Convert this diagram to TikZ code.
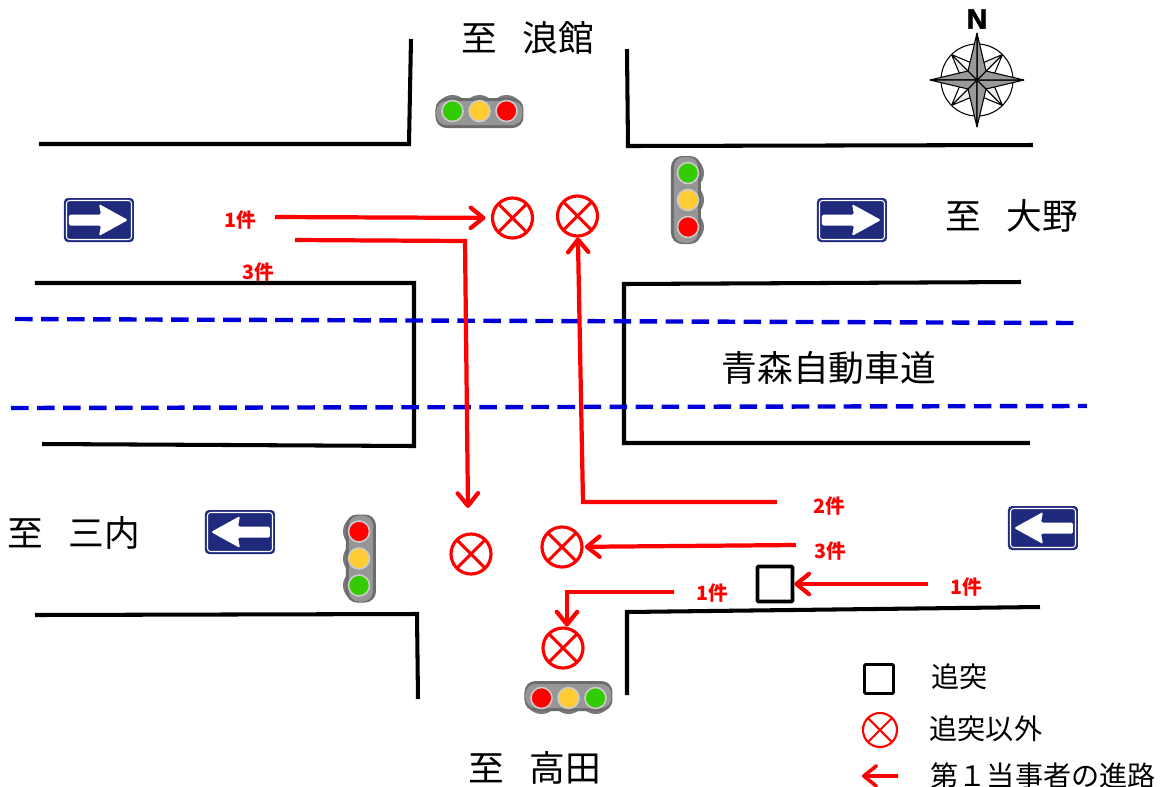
\documentclass[tikz,border=0pt]{standalone}
\usepackage{fontspec}
\setmainfont{Noto Sans CJK JP}
\newfontfamily\nfont[BoldFeatures={FakeBold=2}]{Liberation Sans}
\usetikzlibrary{arrows.meta}
\definecolor{signnavy}{HTML}{1F2A7C}
\definecolor{lampgreen}{HTML}{33CC00}
\definecolor{lampyellow}{HTML}{FFCC33}
\newcommand{\trafficlight}[3]{
    \begin{scope}[shift={(#1,#2)},rotate=#3]
        \foreach \lx in {-27,0,27} {\fill[gray!95!black] (\lx,-2) circle (16);}
        \fill[rounded corners=1.1mm,gray!85!black] (-44,-15) rectangle (44,15);
        \fill[rounded corners=1mm,gray!82] (-43,-12) rectangle (43,12);
        \draw[gray!40,fill=lampgreen,line width=.45pt] (-27,-2) circle (10.5);
        \draw[gray!40,fill=lampyellow,line width=.45pt] (0,-2) circle (10.5);
        \draw[gray!40,fill=red,line width=.45pt] (27,-2) circle (10.5);
    \end{scope}
}
\newcommand{\onewaysign}[3]{
    \begin{scope}[shift={(#1,#2)},rotate=#3]
        \fill[signnavy,rounded corners=.4mm] (-35,-22) rectangle (35,22);
        \draw[white,line width=.3pt,rounded corners=.3mm] (-32.5,-19.5) rectangle (32.5,19.5);
        \fill[white,rounded corners=.15mm] (-30,-5.5) -- (2,-5.5) -- (0,-16) -- (29,0) -- (0,16) -- (2,5.5) -- (-30,5.5) -- cycle;
    \end{scope}
}
\tikzset{
    road/.style={line width=1.15pt,line join=miter},
    bluedash/.style={blue!85!black,line width=1.25pt,dash pattern=on 5pt off 2.4pt},
    route/.style={red,line width=1.2pt,-{Straight Barb[length=3.6pt,width=5.8pt,round]}},
    crash/.style={circle,draw=red,inner sep=0pt,outer sep=0pt,minimum size=.4cm,line width=#1,
        path picture={\draw[red,line width=#1] (path picture bounding box.north west)--(path picture bounding box.south east)
            (path picture bounding box.north east)--(path picture bounding box.south west);}},
    crash/.default=.9pt,
    rearend/.style={rectangle,draw=black,rounded corners=.3pt,inner sep=0pt,outer sep=0pt},
    bigtext/.style={font=\fontsize{10.15}{12}\selectfont,inner sep=0pt},
    legendtext/.style={font=\fontsize{8}{10}\selectfont,inner sep=0pt,anchor=west},
    countlabel/.style={font=\fontsize{5.6}{7}\selectfont\bfseries,text=red,inner sep=0pt}
}
\begin{document}
\begin{tikzpicture}[x=0.01cm,y=-0.01cm]
                    \useasboundingbox (0,0) rectangle (1162,787);

                    \draw[road] (39,144)--(409,144)--(411,39);
                    \draw[road] (627,49)--(628,146)--(1033,145);
                    \draw[road] (35,283)--(414,283)--(414,446)--(42,444);
                    \draw[road] (1021,282)--(624,284)--(624,443)--(1030,443);
                    \draw[road] (35,615)--(417,614)--(418,699);
                    \draw[road] (627,695)--(627,612)--(1040,607);

                    \draw[bluedash] (15,319)--(1077,323);
                    \draw[bluedash] (11,408)--(1087,406);

                    \trafficlight{479.5}{113}{0}
                    \trafficlight{686}{200}{-90}
                    \trafficlight{361}{558.5}{90}
                    \trafficlight{568.5}{696}{180}

                    \onewaysign{99}{220}{0}
                    \onewaysign{852}{220}{0}
                    \onewaysign{240}{532}{180}
                    \onewaysign{1043}{528}{180}

                    \begin{scope}[shift={(977,80)},line join=bevel]
                        \draw[line width=.3pt] (0,0) circle (36);
                        \foreach \ang in {45,135,225,315} {
                            \draw[line width=.3pt,fill=white,rotate=\ang] (0,0)--(36,0)--(14,9)--cycle;
                            \draw[line width=.3pt,fill=gray!15,rotate=\ang] (0,0)--(36,0)--(14,-9)--cycle;
                        }
                        \foreach \ang in {0,90,180,270} {
                            \draw[line width=.3pt,fill=gray!80,rotate=\ang] (0,0)--(47,0)--(9,9)--cycle;
                            \draw[line width=.3pt,fill=gray!80,rotate=\ang] (0,0)--(47,0)--(9,-9)--cycle;
                        }
                    \end{scope}
                    \node[font=\nfont\bfseries\fontsize{8}{10}\selectfont,inner sep=0pt] (north) at (977,19) {N};

                    \node[bigtext] (namidate) at (528,38) {至\hspace{.7em}浪館};
                    \node[bigtext] (ono) at (1012,216) {至\hspace{.7em}大野};
                    \node[bigtext] (expressway) at (829,368) {青森自動車道};
                    \node[bigtext] (sannai) at (74,533) {至\hspace{.7em}三内};
                    \node[bigtext] (takada) at (535,768) {至\hspace{.7em}高田};

                    \node[crash] (crashA) at (512.5,218) {};
                    \node[crash] (crashB) at (577.5,216) {};
                    \node[crash] (crashC) at (471,554) {};
                    \node[crash] (crashD) at (562,547) {};
                    \node[crash] (crashE) at (563,648) {};
                    \node[rearend,line width=1.1pt,minimum size=.35cm] (rearA) at (775,584) {};

                    \node[countlabel] (countA) at (240,220) {1件};
                    \node[countlabel] (countB) at (258,272) {3件};
                    \node[countlabel] (countC) at (829,506) {2件};
                    \node[countlabel] (countD) at (830,551) {3件};
                    \node[countlabel] (countE) at (712,593) {1件};
                    \node[countlabel] (countF) at (966,587) {1件};

                    \coordinate (startA) at (275,217);
                    \coordinate (startB) at (295,240);
                    \coordinate (bendB) at (465,241);
                    \coordinate (endB) at (468,508);
                    \coordinate (startC) at (777,502);
                    \coordinate (bendC) at (583,502);
                    \coordinate (startD) at (796,545);
                    \coordinate (startE) at (674,592);
                    \coordinate (bendE) at (567,592);
                    \coordinate (startF) at (928,584);

                    \draw[route,shorten >=2pt] (startA)--(crashA);
                    \draw[route] (startB)--(bendB)--(endB);
                    \draw[route,shorten >=.4pt] (startC)--(bendC)--(crashB);
                    \draw[route,shorten >=.8pt] (startD)--(crashD);
                    \draw[route,shorten >=.4pt] (startE)--(bendE)--(bendE|-crashE.north);
                    \draw[route,shorten >=.5pt] (startF)--(rearA);

                    \node[rearend,line width=.8pt,minimum size=.29cm] (legendsquare) at (879,679) {};
                    \node[crash=.6pt,minimum size=.34cm] (legendcrash) at (880,730) {};
                    \coordinate (legendstart) at (898,776);
                    \coordinate (legendend) at (862,776);
                    \draw[route,line width=1pt] (legendstart)--(legendend);
                    \node[legendtext] (legendA) at (931,677) {追突};
                    \node[legendtext] (legendB) at (929,729) {追突以外};
                    \node[legendtext] (legendC) at (930,776) {第１当事者の進路};
                \end{tikzpicture}
\end{document}
